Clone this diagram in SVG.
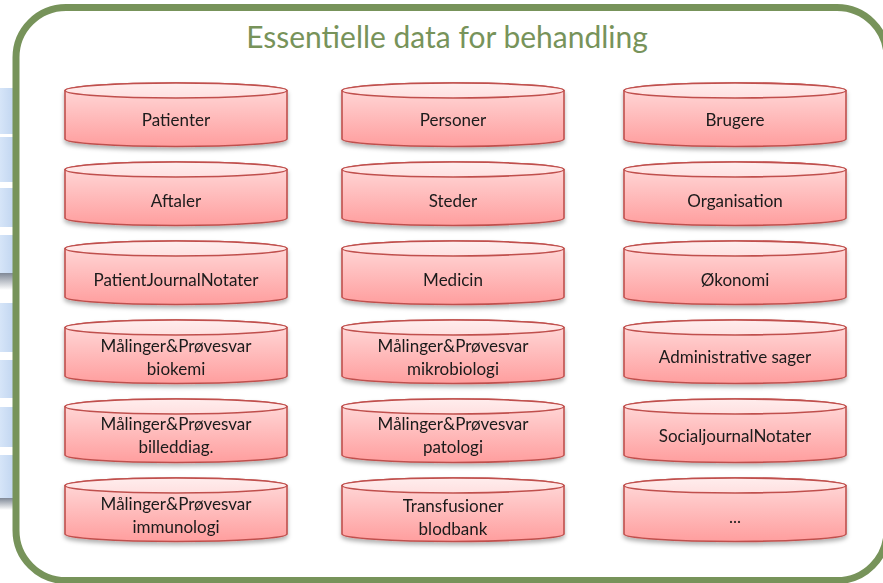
<svg xmlns="http://www.w3.org/2000/svg" xmlns:xlink="http://www.w3.org/1999/xlink" width="883" height="583" viewBox="0 0 883 583">
<style>
.lbl{font-family:Lato,"Open Sans","Liberation Sans",sans-serif;font-size:17px;fill:#1a1a1a;text-anchor:middle}
.title{font-family:Lato,"Open Sans","Liberation Sans",sans-serif;font-size:30px;fill:#77935A;text-anchor:middle}
.body{fill:url(#gBody);stroke:#C0504D;stroke-width:1.6}
.top{fill:url(#gTop);stroke:#C0504D;stroke-width:1.6}
.bar{fill:url(#gBar)}
</style>
<defs>
<linearGradient id="gBody" x1="0" y1="0" x2="0" y2="1">
<stop offset="0" stop-color="#FFDCDC"/>
<stop offset="1" stop-color="#FF9E9E"/>
</linearGradient>
<linearGradient id="gTop" x1="0" y1="0" x2="0" y2="1">
<stop offset="0" stop-color="#FFEDED"/>
<stop offset="1" stop-color="#FFE0E0"/>
</linearGradient>
<linearGradient id="gBar" x1="0" y1="0" x2="1" y2="0">
<stop offset="0" stop-color="#D6E5F8"/>
<stop offset="1" stop-color="#C3D7F1"/>
</linearGradient>
<linearGradient id="gShade" x1="0" y1="0" x2="0" y2="1">
<stop offset="0" stop-color="#7F8896"/>
<stop offset="1" stop-color="#FFFFFF"/>
</linearGradient>
<filter id="sh" x="-5%" y="-20%" width="110%" height="150%">
<feDropShadow dx="0" dy="3" stdDeviation="2.2" flood-color="#000" flood-opacity="0.3"/>
</filter>
<g id="cyl">
<path class="body" d="M0,7.5 A111,7.5 0 0 1 222,7.5 L222,56 A111,7.5 0 0 1 0,56 Z"/>
<ellipse class="top" cx="111" cy="7.5" rx="111" ry="7.5"/>
</g>
</defs>

<g id="background-strip">
<rect class="bar" x="0" y="88" width="13" height="46"/>
<rect class="bar" x="0" y="137" width="13" height="45"/>
<rect class="bar" x="0" y="188" width="13" height="39"/>
<rect class="bar" x="0" y="235" width="13" height="38"/>
<rect x="0" y="273" width="13" height="17" fill="url(#gShade)"/>
<rect class="bar" x="0" y="303" width="13" height="49"/>
<rect class="bar" x="0" y="360" width="13" height="38"/>
<rect class="bar" x="0" y="407" width="13" height="40"/>
<rect class="bar" x="0" y="455" width="13" height="45"/>
<rect x="0" y="498" width="13" height="12" fill="url(#gShade)"/>
</g>

<g id="frame">
<rect x="16" y="7.5" width="871" height="573" rx="50" ry="50" fill="#FFFFFF" stroke="#77935A" stroke-width="7"/>
<text class="title" x="447" y="48">Essentielle data for behandling</text>
</g>

<g id="connectors"></g>

<g id="n-patienter" filter="url(#sh)"><use xlink:href="#cyl" transform="translate(65,83)"/><text class="lbl" x="176" y="126">Patienter</text></g>
<g id="n-personer" filter="url(#sh)"><use xlink:href="#cyl" transform="translate(342,83)"/><text class="lbl" x="453" y="126">Personer</text></g>
<g id="n-brugere" filter="url(#sh)"><use xlink:href="#cyl" transform="translate(624,83)"/><text class="lbl" x="735" y="126">Brugere</text></g>

<g id="n-aftaler" filter="url(#sh)"><use xlink:href="#cyl" transform="translate(65,162)"/><text class="lbl" x="176" y="207">Aftaler</text></g>
<g id="n-steder" filter="url(#sh)"><use xlink:href="#cyl" transform="translate(342,162)"/><text class="lbl" x="453" y="207">Steder</text></g>
<g id="n-organisation" filter="url(#sh)"><use xlink:href="#cyl" transform="translate(624,162)"/><text class="lbl" x="735" y="207">Organisation</text></g>

<g id="n-pjn" filter="url(#sh)"><use xlink:href="#cyl" transform="translate(65,241)"/><text class="lbl" x="176" y="286">PatientJournalNotater</text></g>
<g id="n-medicin" filter="url(#sh)"><use xlink:href="#cyl" transform="translate(342,241)"/><text class="lbl" x="453" y="286">Medicin</text></g>
<g id="n-okonomi" filter="url(#sh)"><use xlink:href="#cyl" transform="translate(624,241)"/><text class="lbl" x="735" y="286">Økonomi</text></g>

<g id="n-biokemi" filter="url(#sh)"><use xlink:href="#cyl" transform="translate(65,320)"/><text class="lbl" x="176" y="352">Målinger&amp;Prøvesvar</text><text class="lbl" x="176" y="375">biokemi</text></g>
<g id="n-mikrobiologi" filter="url(#sh)"><use xlink:href="#cyl" transform="translate(342,320)"/><text class="lbl" x="453" y="352">Målinger&amp;Prøvesvar</text><text class="lbl" x="453" y="375">mikrobiologi</text></g>
<g id="n-admsager" filter="url(#sh)"><use xlink:href="#cyl" transform="translate(624,320)"/><text class="lbl" x="735" y="363">Administrative sager</text></g>

<g id="n-billeddiag" filter="url(#sh)"><use xlink:href="#cyl" transform="translate(65,399)"/><text class="lbl" x="176" y="430">Målinger&amp;Prøvesvar</text><text class="lbl" x="176" y="453">billeddiag.</text></g>
<g id="n-patologi" filter="url(#sh)"><use xlink:href="#cyl" transform="translate(342,399)"/><text class="lbl" x="453" y="430">Målinger&amp;Prøvesvar</text><text class="lbl" x="453" y="453">patologi</text></g>
<g id="n-sjn" filter="url(#sh)"><use xlink:href="#cyl" transform="translate(624,399)"/><text class="lbl" x="735" y="442">SocialjournalNotater</text></g>

<g id="n-immunologi" filter="url(#sh)"><use xlink:href="#cyl" transform="translate(65,478)"/><text class="lbl" x="176" y="510">Målinger&amp;Prøvesvar</text><text class="lbl" x="176" y="533">immunologi</text></g>
<g id="n-transfusioner" filter="url(#sh)"><use xlink:href="#cyl" transform="translate(342,478)"/><text class="lbl" x="453" y="512">Transfusioner</text><text class="lbl" x="453" y="535">blodbank</text></g>
<g id="n-more" filter="url(#sh)"><use xlink:href="#cyl" transform="translate(624,478)"/><text class="lbl" x="735" y="523">...</text></g>
</svg>
